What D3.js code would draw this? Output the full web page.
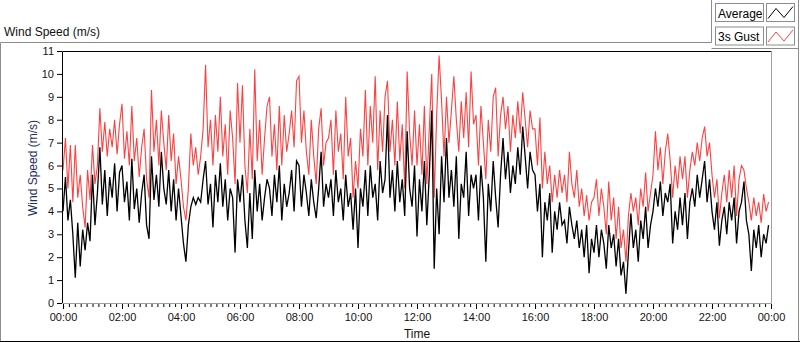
<!DOCTYPE html>
<html>
<head>
<meta charset="utf-8">
<script src="https://cdn.jsdelivr.net/npm/d3@7"></script>
<style>
  html, body { margin: 0; padding: 0; background: #fff; }
  svg { display: block; font-family: "Liberation Sans", Arial, sans-serif; }
</style>
</head>
<body>
<div id="chart"></div>
<script>
// sample step is 5 minutes, one row per hour
const stepMinutes = 5;

const average = [
  4.0, 5.5, 3.6, 4.5, 3.0, 1.1, 3.5, 1.6, 3.2, 2.3, 3.5, 2.7,
  5.6, 3.4, 4.8, 6.8, 4.3, 5.8, 3.8, 5.5, 4.6, 6.1, 4.0, 5.7,
  6.0, 4.4, 5.3, 3.6, 6.3, 4.1, 5.0, 3.5, 4.8, 5.6, 3.4, 2.8,
  6.4, 4.5, 5.6, 4.2, 6.6, 5.0, 4.3, 5.8, 4.0, 5.4, 3.6, 5.0,
  3.8, 2.6, 1.8, 3.4, 4.2, 4.6, 4.3, 4.6, 4.4, 5.4, 6.2, 4.3,
  5.2, 3.3, 5.6, 4.4, 6.1, 4.2, 5.4, 3.6, 5.0, 4.6, 2.2, 5.4,
  4.4, 5.6, 3.6, 2.4, 4.8, 2.8, 5.8, 4.0, 5.2, 3.6, 4.6, 5.4,
  5.0, 3.8, 5.6, 4.4, 6.0, 3.6, 5.2, 4.2, 4.8, 5.8, 4.0, 6.2,
  6.0, 4.2, 5.6, 4.8, 3.8, 5.4, 4.4, 3.7, 5.0, 6.6, 4.2, 5.2,
  4.6, 5.4, 3.8, 5.8, 4.4, 5.0, 3.6, 5.6, 4.2, 4.8, 3.2, 5.0,
  2.4, 5.0, 4.2, 5.8, 3.8, 6.0, 4.6, 5.2, 3.6, 6.2, 4.8, 5.4,
  8.2, 4.6, 5.8, 4.0, 6.2, 4.4, 5.4, 3.8, 7.5, 5.0, 4.2, 6.0,
  2.9, 5.4, 4.0, 6.2, 3.4, 5.6, 8.4, 1.5, 5.0, 3.0, 6.4, 4.4,
  7.2, 4.6, 5.8, 4.2, 6.4, 2.8, 5.2, 4.6, 6.6, 3.8, 5.6, 5.0,
  5.6, 3.6, 6.0, 4.6, 1.8, 5.2, 4.0, 6.2, 4.6, 3.3, 5.6, 7.2,
  5.4, 6.6, 4.8, 6.0, 5.2, 6.8, 5.6, 7.7, 6.4, 5.0, 6.6, 5.8,
  5.6, 4.0, 5.2, 2.0, 4.4, 3.6, 4.8, 2.2, 4.0, 3.2, 4.4, 3.4,
  3.6, 2.6, 4.2, 3.4, 2.8, 3.6, 2.4, 3.2, 2.0, 3.4, 1.3, 2.8,
  2.2, 3.4, 2.0, 3.2, 2.6, 1.5, 3.4, 2.4, 3.0, 1.6, 2.8, 1.2,
  1.8, 0.4, 2.2, 3.9, 2.4, 3.2, 1.8, 3.6, 2.8, 4.2, 2.4, 3.4,
  4.0, 5.0, 4.2, 5.3, 3.8, 4.8, 4.4, 5.2, 2.6, 4.0, 3.2, 4.6,
  3.4, 4.8, 2.8, 4.4, 5.0, 4.2, 5.6, 4.6, 5.4, 6.2, 4.4, 5.4,
  4.0, 3.2, 4.4, 2.5, 3.6, 4.2, 3.0, 4.4, 3.6, 4.6, 2.6, 4.0,
  4.4, 5.3, 3.6, 3.0, 1.4, 3.2, 2.4, 3.4, 2.0, 3.0, 2.6, 3.4
];

const gust = [
  5.8, 7.2, 5.0, 6.9, 4.4, 6.9, 4.6, 5.6, 4.2, 3.3, 5.8, 4.5,
  6.9, 5.2, 6.0, 8.5, 6.6, 7.9, 6.4, 7.6, 6.8, 8.0, 6.5, 7.8,
  8.7, 6.3, 7.5, 6.0, 8.6, 6.2, 7.2, 5.5, 6.8, 7.6, 5.4, 4.6,
  9.3, 6.6, 8.0, 6.0, 8.4, 7.0, 5.8, 8.2, 6.2, 7.4, 5.2, 6.4,
  5.4, 4.2, 3.6, 5.0, 7.4, 6.0, 6.8, 5.6, 6.4, 7.6, 10.4, 6.8,
  8.0, 6.0, 8.2, 6.6, 9.0, 6.4, 7.8, 5.6, 8.4, 7.2, 5.2, 9.6,
  7.0, 9.5, 6.0, 4.8, 7.6, 5.4, 10.2, 6.2, 8.0, 5.6, 7.2, 8.6,
  9.0, 6.4, 7.8, 5.8, 8.6, 6.0, 8.2, 6.6, 7.4, 8.4, 6.8, 9.7,
  9.9, 7.0, 8.4, 6.6, 5.6, 8.0, 6.4, 5.2, 7.6, 8.5, 6.0, 7.0,
  7.2, 8.0, 5.6, 8.4, 6.6, 7.4, 5.4, 9.0, 6.4, 7.2, 4.6, 6.2,
  5.0, 7.6, 6.4, 9.3, 6.0, 8.6, 7.0, 9.9, 5.8, 8.4, 6.6, 9.0,
  9.7, 6.6, 8.0, 6.0, 8.8, 6.2, 7.8, 5.0, 10.1, 7.4, 6.0, 8.4,
  6.0, 7.8, 5.6, 8.6, 5.2, 7.6, 10.0, 4.6, 8.2, 10.8, 8.8, 6.4,
  9.0, 7.0, 8.4, 9.9, 8.0, 6.6, 8.8, 7.2, 9.2, 6.8, 10.1, 7.8,
  8.2, 6.0, 8.6, 7.0, 5.4, 8.0, 6.6, 9.0, 9.4, 6.4, 8.2, 9.0,
  7.6, 8.6, 6.6, 8.2, 7.2, 8.8, 7.4, 9.2, 8.0, 6.8, 8.4, 7.6,
  7.6, 6.0, 8.1, 5.0, 6.6, 5.2, 6.0, 4.4, 5.6, 4.6, 5.8, 4.8,
  5.6, 4.4, 6.6, 5.2, 4.6, 5.8, 4.2, 5.0, 3.8, 4.7, 3.6, 4.4,
  4.6, 5.4, 3.8, 5.0, 4.2, 3.0, 5.3, 3.6, 4.6, 2.8, 4.2, 2.4,
  3.2, 1.8, 3.8, 4.8, 4.0, 4.6, 3.4, 5.0, 4.2, 5.7, 4.0, 4.8,
  5.6, 7.5, 5.8, 6.8, 5.2, 6.6, 7.4, 6.2, 4.6, 6.0, 5.0, 6.4,
  5.4, 6.4, 4.6, 5.8, 6.6, 6.0, 7.0, 6.2, 7.2, 7.7, 6.4, 7.0,
  5.6, 4.6, 5.4, 3.7, 4.8, 5.6, 4.4, 5.8, 4.6, 6.0, 3.8, 5.4,
  6.0, 5.8, 5.0, 4.4, 3.6, 4.6, 3.8, 4.4, 3.5, 4.75, 4.0, 4.4
];

const yTicks = [0, 1, 2, 3, 4, 5, 6, 7, 8, 9, 10, 11];
const xTickHours = [0, 2, 4, 6, 8, 10, 12, 14, 16, 18, 20, 22, 24];
const legendItems = [
  { label: "Average", color: "#000000" },
  { label: "3s Gust", color: "#ff4040" }
];

const W = 800, H = 342;
const plot = { left: 63, right: 771, top: 51, bottom: 303 };

const svg = d3.select("#chart").append("svg")
  .attr("width", W)
  .attr("height", H);

// outer panel frame
svg.append("path")
  .attr("d", "M0.5,341 V42.5 H711.5 V0 M711.5,48.5 H798.5 M798.5,0 V341")
  .attr("fill", "none")
  .attr("stroke", "#8c8c8c");
svg.append("line")
  .attr("x1", 0).attr("x2", W)
  .attr("y1", 341.5).attr("y2", 341.5)
  .attr("stroke", "#000");

svg.append("text")
  .attr("x", 4).attr("y", 36)
  .attr("font-size", 12)
  .attr("fill", "#111")
  .text("Wind Speed (m/s)");

const x = d3.scaleLinear().domain([0, 1440]).range([plot.left, plot.right]);
const y = d3.scaleLinear().domain([0, 11]).range([plot.bottom, plot.top]);

// plot area border: dark top/left, light bottom/right
svg.append("path")
  .attr("d", `M${plot.left - 0.5},${plot.bottom} V${plot.top + 0.5} H${plot.right + 0.5}`)
  .attr("fill", "none").attr("stroke", "#000");
svg.append("path")
  .attr("d", `M${plot.right + 0.5},${plot.top} V${plot.bottom + 0.5} H${plot.left - 0.5}`)
  .attr("fill", "none").attr("stroke", "#a0a0a0");

// y axis
const yAxis = svg.append("g")
  .attr("transform", `translate(${plot.left - 1},0)`)
  .call(d3.axisLeft(y).tickValues(yTicks).tickSize(5).tickPadding(3).tickFormat(d3.format("d")));
yAxis.select(".domain").remove();
yAxis.selectAll("line").attr("stroke", "#000");
yAxis.selectAll("text")
  .attr("font-size", 11)
  .attr("font-family", "Liberation Sans, Arial, sans-serif")
  .attr("fill", "#1a1010");

// x axis minor ticks every 12 minutes
const minor = d3.range(0, 1441, 12);
const xMinor = svg.append("g")
  .attr("transform", `translate(0,${plot.bottom + 1})`)
  .call(d3.axisBottom(x).tickValues(minor).tickSize(3).tickFormat(""));
xMinor.select(".domain").remove();
xMinor.selectAll("line").attr("stroke", "#000");

const xAxis = svg.append("g")
  .attr("transform", `translate(0,${plot.bottom + 1})`)
  .call(d3.axisBottom(x)
    .tickValues(xTickHours.map(h => h * 60))
    .tickSize(5)
    .tickPadding(4)
    .tickFormat(m => d3.format("02d")(Math.floor(m / 60) % 24) + ":00"));
xAxis.select(".domain").remove();
xAxis.selectAll("line").attr("stroke", "#000");
xAxis.selectAll("text")
  .attr("font-size", 11)
  .attr("font-family", "Liberation Sans, Arial, sans-serif")
  .attr("fill", "#1a1010");

svg.append("text")
  .attr("x", (plot.left + plot.right) / 2).attr("y", 338)
  .attr("text-anchor", "middle")
  .attr("font-size", 12)
  .attr("fill", "#1a1010")
  .text("Time");

svg.append("text")
  .attr("transform", "translate(37,168) rotate(-90)")
  .attr("text-anchor", "middle")
  .attr("font-size", 12)
  .attr("fill", "#1f2f5f")
  .text("Wind Speed (m/s)");

// series
svg.append("clipPath").attr("id", "clip")
  .append("rect")
  .attr("x", plot.left).attr("y", plot.top)
  .attr("width", plot.right - plot.left).attr("height", plot.bottom - plot.top);

const line = d3.line()
  .x((d, i) => x(i * stepMinutes))
  .y(d => y(d));

const g = svg.append("g").attr("clip-path", "url(#clip)");
g.append("path")
  .datum(gust)
  .attr("d", line)
  .attr("fill", "none")
  .attr("stroke", legendItems[1].color)
  .attr("stroke-width", 1.1);
g.append("path")
  .datum(average)
  .attr("d", line)
  .attr("fill", "none")
  .attr("stroke", legendItems[0].color)
  .attr("stroke-width", 1.3);

// legend
const lg = svg.append("g");
legendItems.forEach((d, i) => {
  const top = 3.5 + i * 23.5;
  lg.append("rect")
    .attr("x", 715.5).attr("y", top)
    .attr("width", 48).attr("height", 18)
    .attr("fill", "#fff").attr("stroke", "#8c8c8c");
  lg.append("text")
    .attr("x", 718).attr("y", top + 14)
    .attr("font-size", 12)
    .attr("fill", "#000")
    .text(d.label);
  lg.append("rect")
    .attr("x", 766.5).attr("y", top)
    .attr("width", 28).attr("height", 18)
    .attr("fill", "#fff").attr("stroke", "#8c8c8c");
  lg.append("path")
    .attr("d", `M768,${top + 15} L776,${top + 5} L784,${top + 14} L793,${top + 3}`)
    .attr("fill", "none")
    .attr("stroke", d.color);
});
</script>
</body>
</html>
